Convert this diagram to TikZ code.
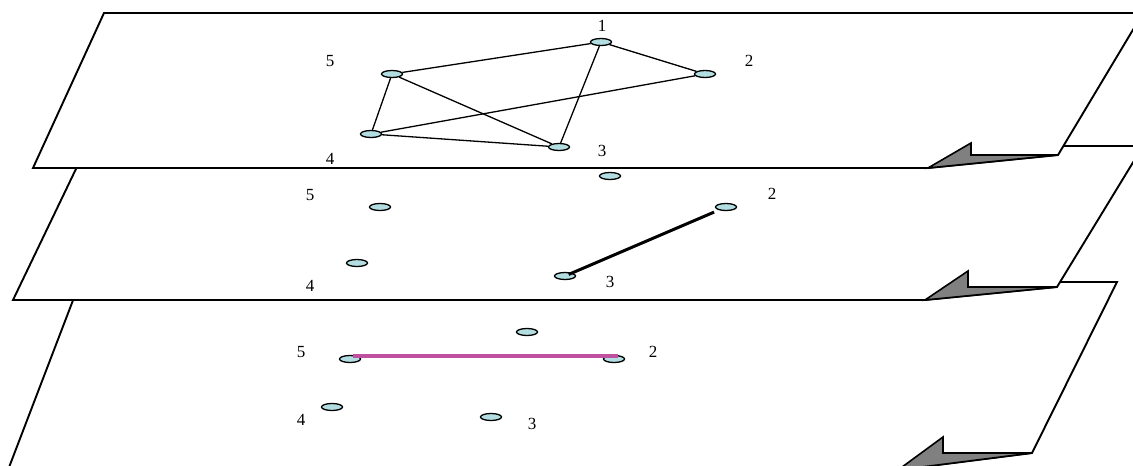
\documentclass[tikz,border=0pt]{standalone}
\usepackage{fontspec}
\setmainfont{Liberation Serif}
\usetikzlibrary{shapes.geometric}
\definecolor{nodefill}{RGB}{178,222,226}
\definecolor{flapgrey}{RGB}{128,128,128}
\definecolor{pinkline}{RGB}{192,80,160}
\begin{document}
\begin{tikzpicture}[x=1pt,y=-1pt,
  page/.style={draw=black,fill=white,line width=1.9pt,line join=miter},
  flap/.style={draw=black,fill=flapgrey,line width=1.6pt,line join=miter},
  vtx/.style={ellipse,draw=black,fill=nodefill,line width=1.3pt,minimum width=21pt,minimum height=7pt,inner sep=0pt},
  lbl/.style={font=\fontsize{17}{17}\selectfont,inner sep=0pt},
  edge/.style={draw=black,line width=1.3pt},
  thickedge/.style={draw=black,line width=3pt},
  pinkedge/.style={draw=pinkline,line width=3.4pt}]
\useasboundingbox (0,0) rectangle (1133,466);
\begin{scope}
\clip (0,0) rectangle (1133,466);
% plane 3 (bottom)
\draw[page] (80,282) -- (1117,282) -- (1032,453) -- (898,470) -- (8,470) -- cycle;
\draw[flap] (898,470) -- (943,437) -- (943,453) -- (1032,453) -- cycle;
% plane 2
\draw[page] (87,146) -- (1143,146) -- (1057,287) -- (925,300) -- (13,300) -- cycle;
\draw[flap] (925,300) -- (968,271) -- (968,287) -- (1057,287) -- cycle;
% plane 1 (top)
\draw[page] (104,13) -- (1143,13) -- (1058,155) -- (928,168) -- (33,168) -- cycle;
\draw[flap] (928,168) -- (971,143) -- (971,155) -- (1058,155) -- cycle;
\end{scope}

% plane 1 graph
\node[vtx] (a1) at (601,42) {};
\node[vtx] (a2) at (705,74) {};
\node[vtx] (a3) at (559,147) {};
\node[vtx] (a4) at (371,134) {};
\node[vtx] (a5) at (392,74) {};
\node[lbl] (la1) at (602,26) {1};
\node[lbl] (la2) at (749,61) {2};
\node[lbl] (la3) at (602,151) {3};
\node[lbl] (la4) at (330,159) {4};
\node[lbl] (la5) at (330,61) {5};
\draw[edge] (a5) -- (a1);
\draw[edge] (a1) -- (a2);
\draw[edge] (a1) -- (a3);
\draw[edge] (a5) -- (a4);
\draw[edge] (a5) -- (a3);
\draw[edge] (a4) -- (a2);
\draw[edge] (a4) -- (a3);

% plane 2 graph
\node[vtx] (b1) at (610,176) {};
\node[vtx] (b2) at (726,207) {};
\node[vtx] (b3) at (565,276) {};
\node[vtx] (b4) at (357,263) {};
\node[vtx] (b5) at (380,207) {};
\node[lbl] (lb2) at (772,194) {2};
\node[lbl] (lb3) at (610,282) {3};
\node[lbl] (lb4) at (310,286) {4};
\node[lbl] (lb5) at (310,195) {5};
\draw[thickedge,shorten <=4pt,shorten >=5pt] (b3.center) -- (b2);

% plane 3 graph
\node[vtx] (c1) at (527,332) {};
\node[vtx] (c2) at (614,359) {};
\node[vtx] (c3) at (491,417) {};
\node[vtx] (c4) at (332,407) {};
\node[vtx] (c5) at (350,359) {};
\node[lbl] (lc2) at (653,352) {2};
\node[lbl] (lc3) at (532,424) {3};
\node[lbl] (lc4) at (301,420) {4};
\node[lbl] (lc5) at (301,352) {5};
\draw[pinkedge] ([xshift=3pt,yshift=3pt]c5.center) -- ([xshift=4pt,yshift=3pt]c2.center);
\end{tikzpicture}
\end{document}
